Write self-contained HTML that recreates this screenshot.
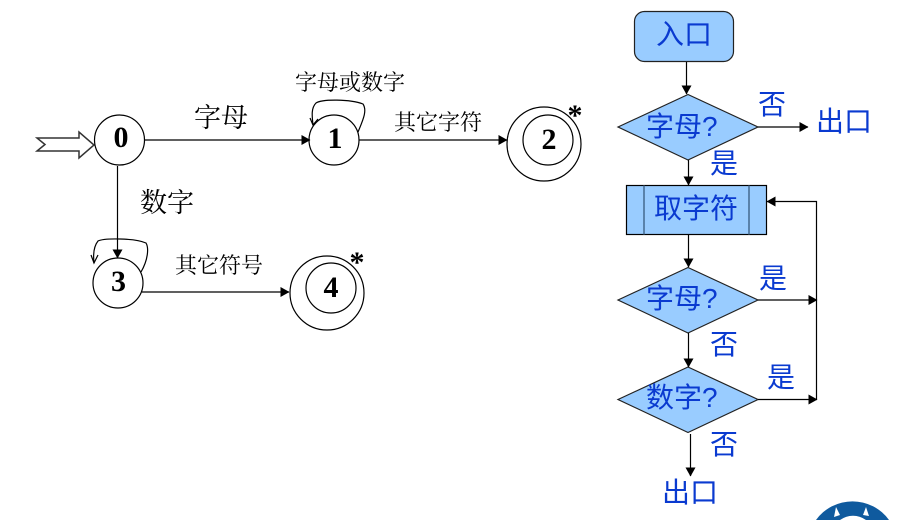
<!DOCTYPE html>
<html lang="zh"><head><meta charset="utf-8"><style>
html,body{margin:0;padding:0;background:#fff;width:918px;height:520px;overflow:hidden}
svg{display:block}
.s{font-family:"Liberation Serif","Noto Serif CJK SC",serif;fill:#000}
.d{font-family:"Liberation Serif",serif;font-weight:bold;font-size:30px;fill:#000;text-anchor:middle}
.b{font-family:"Liberation Sans","Noto Sans CJK SC",sans-serif;fill:#0a3ad0;font-size:28px}
</style></head><body>
<svg width="918" height="520" viewBox="0 0 918 520" xmlns="http://www.w3.org/2000/svg">
<defs>
<marker id="a" markerWidth="9" markerHeight="10" refX="8.500" refY="5" orient="auto" markerUnits="userSpaceOnUse"><path d="M0 0L9 5L0 10z" fill="#000"/></marker>
</defs>
<g fill="none" stroke="#000" stroke-width="1.2">
<path d="M37 138H79V132L94 145L79 158V151H37L45 144.500z" stroke="#333" stroke-width="1.500"/>
<circle cx="119.500" cy="140" r="25"/>
<circle cx="334" cy="140" r="25"/>
<circle cx="548" cy="140" r="25"/>
<circle cx="544" cy="144" r="37"/>
<circle cx="118" cy="283" r="25"/>
<circle cx="331" cy="288" r="25"/>
<circle cx="327" cy="293" r="37"/>
<path d="M145 140H310" marker-end="url(#a)"/>
<path d="M359 140H507" marker-end="url(#a)"/>
<path d="M117.500 166V258" marker-end="url(#a)"/>
<path d="M142 292H289" marker-end="url(#a)"/>
<path d="M358 132C364 118 367 110 363 104C350 99 322 99 316 103C311 108 312 116 313 125"/>
<path d="M310 118L313 125L318 119"/>
<path d="M141 272C148 260 149 248 146 243C135 238 104 238 98 241C94 246 93 254 94 263"/>
<path d="M91 255L94 263L98 255"/>
</g>
<text class="s" x="194" y="127" font-size="27">字母</text>
<text class="s" x="140" y="212" font-size="27">数字</text>
<text class="s" x="295" y="90" font-size="22">字母或数字</text>
<text class="s" x="394" y="130" font-size="22">其它字符</text>
<text class="s" x="175" y="273" font-size="22">其它符号</text>
<text class="d" x="121" y="147">0</text>
<text class="d" x="335" y="148">1</text>
<text class="d" x="549" y="149">2</text>
<text class="d" x="118.500" y="291">3</text>
<text class="d" x="331" y="297">4</text>
<text class="d" x="575" y="125">*</text>
<text class="d" x="357" y="272">*</text>

<rect x="634.500" y="11.500" width="99" height="50" rx="10" fill="#99ccff" stroke="#222" stroke-width="1.2"/>
<path d="M618 127L688 94.500L758 127L688 160z" fill="#99ccff" stroke="#222" stroke-width="1.200"/>
<rect x="626.500" y="185.500" width="140" height="49" fill="#99ccff" stroke="#000" stroke-width="1.200"/>
<path d="M644 185.500V234.500M749 185.500V234.500" stroke="#446a8f" stroke-width="1.500"/>
<path d="M618 300L688 267.500L758 300L688 333z" fill="#99ccff" stroke="#222" stroke-width="1.200"/>
<path d="M618 399.500L688 367L758 399.500L688 432.500z" fill="#99ccff" stroke="#222" stroke-width="1.200"/>
<g fill="none" stroke="#000" stroke-width="1.200">
<path d="M686.500 62V94" marker-end="url(#a)"/>
<path d="M758 127H808" marker-end="url(#a)"/>
<path d="M688.500 160V185" marker-end="url(#a)"/>
<path d="M688.500 235V267" marker-end="url(#a)"/>
<path d="M758 300H817" marker-end="url(#a)"/>
<path d="M688.500 333V367" marker-end="url(#a)"/>
<path d="M758 399.500H817" marker-end="url(#a)"/>
<path d="M816.500 399.500V201.500H767" marker-end="url(#a)"/>
<path d="M690.500 434V476" marker-end="url(#a)"/>
</g>
<text class="b" x="656" y="44">入口</text>
<text class="b" x="646" y="136">字母?</text>
<text class="b" x="758" y="114">否</text>
<text class="b" x="816" y="131">出口</text>
<text class="b" x="710" y="173">是</text>
<text class="b" x="654" y="218">取字符</text>
<text class="b" x="646" y="308">字母?</text>
<text class="b" x="759" y="288">是</text>
<text class="b" x="710" y="354">否</text>
<text class="b" x="646" y="407">数字?</text>
<text class="b" x="767" y="387">是</text>
<text class="b" x="710" y="454">否</text>
<text class="b" x="662" y="502">出口</text>

<path d="M816 520A45 45 0 0 1 889 520z" fill="#0f5a9e"/>
<path d="M840 520A22 22 0 0 1 866 520z" fill="#fff"/>
<path d="M836 507l4 8-6 2zM866 507l-3 8 6 1z" fill="#fff"/>
</svg>
</body></html>
